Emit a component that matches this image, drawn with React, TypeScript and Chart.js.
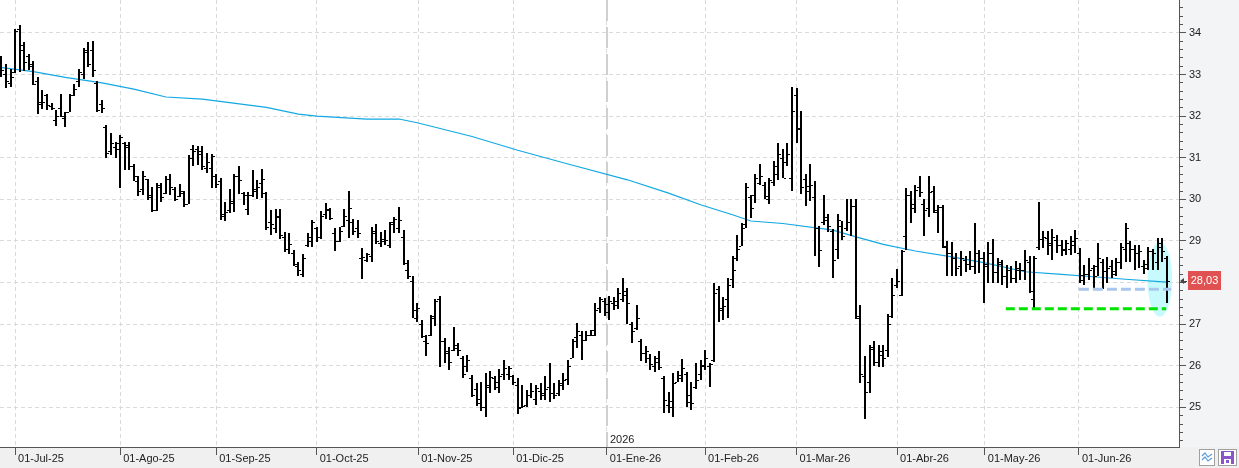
import React, { useEffect, useRef } from 'react';
import { Chart, registerables } from 'chart.js';

Chart.register(...registerables);

const W = 1239;
const H = 468;
const FONT = "'Liberation Sans', Arial, sans-serif";

// Daily OHLC bars, 26-Jun-25 .. 26-Jun-26 (index = trading day)
const openP = [
  33.3, 33.0, 32.8, 33.05, 34.1, 33.7, 33.45, 33.2, 32.85, 32.3,
  32.5, 32.25, 31.9, 32.2, 31.95, 32.1, 32.5, 32.85, 33.0, 33.6,
  33.6, 32.8, 32.3, 31.75, 31.15, 31.27, 31.35, 31.35, 31.3, 30.8,
  30.45, 30.25, 30.5, 30.1, 29.75, 30.3, 30.15, 30.5, 30.25, 30.08,
  30.15, 29.9, 31.2, 31.2, 31.15, 30.75, 30.75, 30.55, 30.45, 29.6,
  29.75, 29.95, 30.55, 30.15, 29.76, 30.1, 30.2, 30.4, 30.15, 29.45,
  29.3, 29.6, 29.1, 28.8, 28.7, 28.4, 28.2, 28.9, 29.0, 29.3,
  29.1, 29.65, 29.75, 29.2, 29.0, 29.35, 29.5, 29.45, 29.3, 28.6,
  28.55, 28.65, 29.2, 28.95, 29.05, 28.9, 29.45, 29.3, 29.1, 28.3,
  28.05, 27.15, 27.0, 26.6, 26.75, 27.2, 27.6, 26.6, 26.35, 26.38,
  26.5, 26.2, 26.0, 25.7, 25.45, 25.2, 25.0, 25.5, 25.7, 25.5,
  25.8, 25.8, 25.75, 25.55, 25.0, 25.05, 25.3, 25.2, 25.4, 25.3,
  25.5, 25.35, 25.35, 25.55, 25.68, 26.2, 26.7, 26.75, 26.62, 26.75,
  26.75, 27.4, 27.55, 27.3, 27.5, 27.45, 27.6, 27.8, 27.0, 26.9,
  26.6, 26.3, 26.2, 26.0, 26.2, 25.7, 25.05, 25.0, 25.6, 25.7,
  25.8, 25.3, 25.5, 25.8, 26.0, 26.0, 26.15, 27.85, 27.35, 27.6,
  28.09, 28.6, 28.89, 29.4, 30.05, 30.11, 30.4, 30.35, 30.0, 30.41,
  30.6, 31.0, 30.9, 30.52, 32.5, 31.7, 30.5, 30.2, 30.06, 29.3,
  29.45, 29.5, 29.23, 28.8, 29.35, 29.3, 29.45, 29.85, 27.2, 25.76,
  25.6, 26.45, 26.1, 26.35, 26.39, 27.2, 27.95, 27.7, 29.13, 30.1,
  29.8, 30.3, 29.9, 29.8, 30.2, 29.7, 29.82, 28.85, 28.7, 28.6,
  28.4, 28.55, 28.45, 28.4, 28.7, 28.6, 28.4, 28.7, 28.25, 28.5,
  28.15, 28.3, 28.1, 28.35, 28.3, 28.5, 27.6, 28.85, 29.05, 29.07,
  28.91, 29.03, 28.9, 28.8, 28.8, 28.9, 28.7, 28.07, 28.2, 28.35,
  28.39, 28.5, 28.27, 28.4, 28.2, 28.5, 28.8, 28.95, 28.8, 28.7,
  28.4, 28.35, 28.75, 28.5, 28.95, 28.6,
];

const highP = [
  33.45, 33.25, 33.13, 34.1, 34.2, 33.78, 33.5, 33.33, 32.94, 32.62,
  32.54, 32.31, 32.14, 32.54, 32.11, 32.54, 32.78, 33.13, 33.64, 33.78,
  33.8, 32.85, 32.39, 31.79, 31.59, 31.39, 31.55, 31.37, 31.37, 30.85,
  30.56, 30.67, 30.5, 30.3, 30.4, 30.39, 30.55, 30.6, 30.3, 30.37,
  30.2, 31.07, 31.31, 31.28, 31.28, 31.12, 31.1, 30.6, 30.52, 29.94,
  30.26, 30.6, 30.79, 30.18, 30.18, 30.7, 30.46, 30.74, 30.18, 29.74,
  29.76, 29.78, 29.22, 29.2, 28.78, 28.5, 28.68, 29.2, 29.5, 29.34,
  29.72, 29.92, 29.8, 29.3, 29.33, 29.76, 30.2, 29.52, 29.5, 28.82,
  28.7, 29.34, 29.41, 29.22, 29.26, 29.46, 29.58, 29.82, 29.26, 28.55,
  28.16, 27.52, 27.1, 26.75, 27.23, 27.6, 27.68, 26.67, 26.45, 26.94,
  26.55, 26.23, 26.27, 25.78, 25.58, 25.62, 25.84, 25.88, 25.76, 25.92,
  26.15, 26.0, 25.78, 25.7, 25.54, 25.42, 25.58, 25.54, 25.58, 25.76,
  26.06, 25.58, 25.66, 25.82, 26.15, 26.65, 27.03, 26.83, 26.83, 26.87,
  27.52, 27.66, 27.63, 27.67, 27.66, 27.88, 28.12, 27.86, 27.05, 27.47,
  26.65, 26.47, 26.28, 26.24, 26.35, 25.76, 25.38, 25.84, 25.88, 26.16,
  25.85, 25.62, 26.08, 26.15, 26.38, 26.08, 27.98, 27.92, 27.65, 28.11,
  28.65, 29.15, 29.43, 30.39, 30.11, 30.6, 30.86, 30.41, 30.52, 30.92,
  31.36, 31.21, 31.36, 32.7, 32.68, 32.12, 30.6, 30.86, 30.43, 29.35,
  30.11, 29.66, 29.29, 29.66, 29.47, 30.01, 30.01, 30.01, 27.47, 26.23,
  26.5, 26.59, 26.5, 26.5, 27.25, 28.11, 28.33, 28.79, 30.27, 30.19,
  30.35, 30.55, 30.0, 30.55, 30.31, 29.86, 29.86, 29.0, 28.97, 28.7,
  28.75, 28.63, 28.75, 29.42, 28.79, 28.73, 28.97, 29.05, 28.59, 28.55,
  28.43, 28.39, 28.51, 28.47, 28.79, 28.65, 28.65, 29.94, 29.23, 29.23,
  29.28, 29.15, 29.03, 29.03, 29.11, 29.27, 28.83, 28.43, 28.59, 28.43,
  28.95, 28.57, 28.61, 28.55, 28.6, 28.95, 29.43, 29.0, 28.9, 28.9,
  28.55, 28.85, 28.8, 29.08, 29.08, 28.65,
];

const lowP = [
  32.94, 32.67, 32.71, 33.04, 33.05, 33.09, 33.1, 32.74, 32.06, 32.17,
  32.15, 32.14, 31.77, 31.98, 31.75, 32.1, 32.49, 32.71, 32.88, 33.17,
  32.94, 32.11, 32.07, 30.99, 31.07, 31.0, 30.27, 30.71, 30.71, 30.43,
  30.09, 30.1, 29.98, 29.7, 29.73, 29.94, 30.14, 30.1, 29.97, 30.06,
  29.81, 29.89, 30.8, 30.83, 30.71, 30.64, 30.28, 30.27, 29.5, 29.49,
  29.68, 29.69, 30.14, 29.86, 29.62, 30.06, 30.02, 30.04, 29.26, 29.14,
  29.2, 29.04, 28.74, 28.69, 28.39, 28.16, 28.13, 28.86, 28.86, 28.98,
  29.04, 29.54, 29.5, 28.75, 28.98, 29.33, 29.06, 29.14, 29.06, 28.08,
  28.5, 28.5, 28.93, 28.86, 28.9, 28.82, 29.18, 29.18, 28.43, 28.08,
  27.15, 27.05, 26.67, 26.24, 26.71, 26.95, 25.97, 26.08, 25.89, 26.35,
  26.24, 25.7, 25.86, 25.24, 25.03, 24.92, 24.77, 25.35, 25.42, 25.35,
  25.66, 25.66, 25.55, 24.85, 24.98, 25.02, 25.22, 25.06, 25.18, 25.18,
  25.14, 25.2, 25.27, 25.42, 25.54, 26.19, 26.44, 26.13, 26.59, 26.71,
  26.71, 27.28, 27.2, 27.1, 27.35, 27.36, 27.54, 27.0, 26.55, 26.85,
  26.12, 26.06, 25.89, 25.86, 25.9, 24.86, 24.86, 24.77, 25.6, 25.61,
  25.02, 24.95, 25.44, 25.66, 25.9, 25.49, 26.1, 27.05, 27.11, 27.15,
  27.87, 28.51, 28.87, 29.31, 29.55, 29.91, 30.35, 30.0, 29.9, 30.31,
  30.47, 30.52, 30.8, 30.19, 31.36, 30.13, 29.83, 29.95, 28.63, 28.37,
  29.39, 29.21, 28.11, 28.57, 29.03, 29.23, 29.13, 27.12, 25.59, 24.72,
  25.34, 25.99, 25.97, 25.97, 26.21, 27.15, 27.87, 27.67, 28.78, 29.43,
  29.68, 30.06, 29.11, 29.58, 29.67, 29.19, 28.83, 28.17, 28.16, 28.16,
  28.16, 28.25, 28.3, 28.2, 28.23, 27.51, 28.0, 27.98, 27.98, 27.95,
  27.87, 27.99, 27.99, 28.07, 28.07, 27.75, 27.39, 28.79, 28.83, 28.67,
  28.55, 28.71, 28.65, 28.67, 28.67, 28.71, 27.99, 27.95, 28.07, 27.87,
  28.15, 27.85, 27.99, 28.11, 28.15, 28.32, 28.5, 28.5, 28.3, 28.35,
  28.2, 28.3, 28.3, 28.3, 28.5, 27.5,
];

const closeP = [
  33.1, 32.85, 32.94, 34.05, 33.6, 33.3, 33.25, 32.78, 32.33, 32.35,
  32.27, 32.2, 32.0, 32.0, 32.1, 32.5, 32.65, 33.05, 33.55, 33.25,
  33.1, 32.15, 32.2, 31.12, 31.35, 31.2, 31.5, 31.27, 30.8, 30.55,
  30.2, 30.55, 30.06, 29.75, 30.35, 30.06, 30.48, 30.3, 30.0, 30.2,
  29.88, 31.0, 31.15, 31.1, 30.8, 30.9, 31.05, 30.38, 29.65, 29.7,
  29.92, 30.55, 30.47, 30.1, 30.1, 30.25, 30.3, 30.5, 29.33, 29.4,
  29.58, 29.15, 28.8, 28.93, 28.45, 28.3, 28.6, 29.1, 29.45, 29.1,
  29.6, 29.78, 29.55, 29.0, 29.25, 29.6, 29.8, 29.25, 29.2, 28.62,
  28.68, 29.25, 29.0, 29.0, 29.02, 29.4, 29.52, 29.5, 28.47, 28.15,
  27.35, 27.4, 26.72, 26.55, 27.15, 27.55, 26.6, 26.3, 26.1, 26.42,
  26.39, 25.8, 26.13, 25.3, 25.1, 25.0, 25.55, 25.74, 25.6, 25.76,
  25.94, 25.95, 25.6, 24.98, 25.03, 25.3, 25.4, 25.46, 25.35, 25.45,
  25.34, 25.31, 25.58, 25.66, 26.0, 26.6, 26.83, 26.63, 26.75, 26.85,
  27.35, 27.6, 27.49, 27.55, 27.55, 27.75, 27.7, 27.5, 26.83, 27.15,
  26.31, 26.35, 26.05, 26.1, 25.98, 25.19, 25.16, 25.58, 25.78, 25.94,
  25.14, 25.11, 25.66, 26.02, 26.19, 26.05, 27.75, 27.4, 27.43, 27.95,
  28.3, 28.81, 29.3, 30.3, 29.79, 30.52, 30.56, 30.07, 30.46, 30.8,
  31.1, 30.52, 31.1, 32.12, 31.72, 30.3, 30.31, 30.35, 29.31, 28.79,
  29.58, 29.37, 28.55, 29.5, 29.11, 29.45, 29.85, 27.15, 25.8, 25.38,
  26.4, 26.1, 26.27, 26.19, 27.0, 27.71, 28.05, 28.75, 30.1, 29.9,
  30.23, 30.17, 29.75, 30.18, 29.74, 29.82, 28.87, 28.72, 28.6, 28.35,
  28.58, 28.45, 28.39, 28.7, 28.6, 28.45, 28.7, 28.25, 28.45, 28.15,
  28.3, 28.11, 28.31, 28.31, 28.55, 27.79, 28.6, 29.05, 29.1, 28.95,
  29.1, 28.9, 28.79, 28.95, 29.0, 29.07, 28.19, 28.2, 28.31, 28.17,
  28.6, 28.27, 28.35, 28.27, 28.5, 28.85, 29.3, 28.8, 28.7, 28.75,
  28.45, 28.75, 28.7, 28.85, 28.75, 28.03,
];

// Moving average (knots): bar index / value
const maIdx = [-0.3, 7, 14, 22, 29, 36, 44, 58, 65, 69, 80, 87, 91, 103, 113, 124, 137, 146, 153, 160, 164, 171, 182, 187, 193, 200, 208, 215, 224, 232, 239, 246, 255];
const maVal = [33.17, 33.07, 32.93, 32.8, 32.65, 32.46, 32.41, 32.21, 32.05, 32.0, 31.93, 31.93, 31.84, 31.51, 31.18, 30.85, 30.47, 30.15, 29.87, 29.63, 29.48, 29.42, 29.26, 29.1, 28.92, 28.76, 28.62, 28.48, 28.26, 28.2, 28.14, 28.08, 28.01];

// Month tick labels and their bar positions
const monthLabels = ['01-Jul-25', '01-Ago-25', '01-Sep-25', '01-Oct-25', '01-Nov-25', '01-Dic-25', '01-Ene-26', '01-Feb-26', '01-Mar-26', '01-Abr-26', '01-May-26', '01-Jun-26'];
const monthPos = [3, 26, 47, 69, 91.2, 112, 132.5, 154, 174, 196, 215.2, 235.8];
const yearLabel = '2026';
const yearPos = 132.5;

// Drawn levels
const supportLevel = 27.37;
const supportFrom = 219.8;
const supportTo = 254.9;
const pivotLevel = 27.84;
const pivotFrom = 235.8;
const pivotTo = 256;

// Highlight ellipse around last bars
const hlCenterIdx = 253.5;
const hlCenterVal = 28.08;
const hlHalfIdx = 2.7;
const hlHalfVal = 0.9;

const X_MIN = -0.3;
const X_MAX = 257.7;
const Y_MIN = 24.05;
const Y_MAX = 34.79;

const lastClose = closeP[closeP.length - 1];

const decor = {
  id: 'decor',
  beforeDraw(chart: any) {
    const { ctx, chartArea: a } = chart;
    ctx.save();
    ctx.fillStyle = '#ffffff';
    ctx.fillRect(0, 0, chart.width, chart.height);
    ctx.fillStyle = '#f3f4f6';
    ctx.fillRect(a.right, 0, chart.width - a.right, a.bottom);
    ctx.fillStyle = '#f0f0f0';
    ctx.fillRect(0, a.bottom, chart.width, chart.height - a.bottom);
    ctx.restore();
  },
  beforeDatasetsDraw(chart: any) {
    const { ctx, chartArea: a, scales } = chart;
    const xs = scales.x;
    const ys = scales.y;
    ctx.save();
    // year separator
    const yx = Math.round(xs.getPixelForValue(yearPos));
    ctx.fillStyle = '#d0d0d0';
    for (let y = a.top; y < a.bottom; y += 27) {
      ctx.fillRect(yx - 1, y, 2, Math.min(21, a.bottom - y));
    }
    ctx.fillStyle = '#222';
    ctx.font = `11px ${FONT}`;
    ctx.textAlign = 'left';
    ctx.textBaseline = 'alphabetic';
    ctx.fillText(yearLabel, yx + 3, a.bottom - 4);
    // highlight ellipse
    const cx = xs.getPixelForValue(hlCenterIdx);
    const cy = ys.getPixelForValue(hlCenterVal);
    const rx = Math.abs(xs.getPixelForValue(hlCenterIdx + hlHalfIdx) - cx);
    const ry = Math.abs(ys.getPixelForValue(hlCenterVal + hlHalfVal) - cy);
    ctx.fillStyle = 'rgba(175, 248, 252, 0.7)';
    ctx.beginPath();
    ctx.ellipse(cx, cy, rx, ry, 0, 0, Math.PI * 2);
    ctx.fill();
    ctx.restore();
  },
  afterDatasetDraw(chart: any, args: any) {
    if (args.index !== 0) return;
    const { ctx, chartArea: a, scales } = chart;
    const xs = scales.x;
    const ys = scales.y;
    ctx.save();
    ctx.beginPath();
    ctx.rect(a.left, a.top, a.right - a.left, a.bottom - a.top);
    ctx.clip();
    ctx.fillStyle = '#000000';
    for (let i = 0; i < closeP.length; i++) {
      const px = Math.round(xs.getPixelForValue(i));
      const yh = Math.round(ys.getPixelForValue(highP[i]));
      const yl = Math.round(ys.getPixelForValue(lowP[i]));
      const yo = Math.round(ys.getPixelForValue(openP[i]));
      const yc = Math.round(ys.getPixelForValue(closeP[i]));
      ctx.fillRect(px - 1, yh, 2, Math.max(1, yl - yh));
      ctx.fillRect(px - 3, yo, 2, 1);
      ctx.fillRect(px + 1, yc, 2, 1);
    }
    ctx.restore();
  },
  afterDraw(chart: any) {
    const { ctx, chartArea: a, scales } = chart;
    const ys = scales.y;
    ctx.save();
    // minor ticks on the price axis
    ctx.fillStyle = '#555';
    const start = Math.ceil(Y_MIN * 5) / 5;
    for (let k = 0; ; k++) {
      const v = Math.round((start + k * 0.2) * 10) / 10;
      if (v > Y_MAX) break;
      if (Math.abs(v - Math.round(v)) < 1e-6) continue;
      const py = Math.floor(ys.getPixelForValue(v));
      ctx.fillRect(a.right, py, 4, 1);
    }
    // last price label
    const ly = Math.round(ys.getPixelForValue(lastClose));
    ctx.fillStyle = '#e05252';
    ctx.fillRect(a.right + 9, ly - 10, 33, 19);
    ctx.fillStyle = '#ffffff';
    ctx.font = `11px ${FONT}`;
    ctx.textAlign = 'center';
    ctx.textBaseline = 'middle';
    ctx.fillText(lastClose.toFixed(2).replace('.', ','), a.right + 25.5, ly);
    // small arrow
    ctx.fillStyle = '#444';
    ctx.beginPath();
    ctx.moveTo(a.right + 1, ly);
    ctx.lineTo(a.right + 5, ly - 3);
    ctx.lineTo(a.right + 5, ly + 3);
    ctx.closePath();
    ctx.fill();
    ctx.fillRect(a.right + 4, ly, 4, 1);
    // bottom-right icons
    ctx.fillStyle = '#ffffff';
    ctx.fillRect(1199, 449, 16, 17);
    ctx.strokeStyle = '#a0a0a0';
    ctx.lineWidth = 1;
    ctx.strokeRect(1199.5, 449.5, 15, 16);
    ctx.strokeStyle = '#5b9bd8';
    ctx.lineWidth = 1.2;
    ctx.beginPath();
    ctx.moveTo(1202, 456); ctx.lineTo(1205, 453); ctx.lineTo(1208, 457); ctx.lineTo(1212, 454);
    ctx.moveTo(1202, 460); ctx.lineTo(1205, 457); ctx.lineTo(1208, 461); ctx.lineTo(1212, 458);
    ctx.stroke();
    ctx.fillStyle = '#ffffff';
    ctx.fillRect(1218, 449, 19, 17);
    ctx.strokeStyle = '#a0a0a0';
    ctx.lineWidth = 1;
    ctx.strokeRect(1218.5, 449.5, 18, 16);
    ctx.fillStyle = '#8b55c9';
    ctx.fillRect(1221, 451, 13, 13);
    ctx.fillStyle = '#ffffff';
    ctx.fillRect(1224, 452, 7, 4);
    ctx.fillRect(1224, 459, 7, 5);
    ctx.fillStyle = '#8b55c9';
    ctx.fillRect(1226, 460, 3, 3);
    ctx.restore();
  },
};

export default function App() {
  const ref = useRef<HTMLCanvasElement | null>(null);

  useEffect(() => {
    const canvas = ref.current;
    if (!canvas) return;
    const font = { family: FONT, size: 11 };
    const chart = new Chart(canvas, {
      type: 'line',
      data: {
        datasets: [
          {
            label: 'Media',
            data: maIdx.map((x, k) => ({ x, y: maVal[k] })),
            borderColor: '#12a8e3',
            borderWidth: 1.2,
            pointRadius: 0,
            tension: 0,
            order: 3,
          },
          {
            label: 'Soporte',
            data: [{ x: supportFrom, y: supportLevel }, { x: supportTo, y: supportLevel }],
            borderColor: '#00e400',
            borderWidth: 3,
            borderDash: [9, 4],
            pointRadius: 0,
            order: 1,
          },
          {
            label: 'Nivel',
            data: [{ x: pivotFrom, y: pivotLevel }, { x: pivotTo, y: pivotLevel }],
            borderColor: '#a9c7ee',
            borderWidth: 3,
            borderDash: [10, 4],
            pointRadius: 0,
            order: 2,
          },
        ],
      },
      options: {
        animation: false,
        responsive: false,
        maintainAspectRatio: false,
        events: [],
        layout: { padding: 0 },
        plugins: { legend: { display: false }, tooltip: { enabled: false } },
        scales: {
          x: {
            type: 'linear',
            position: 'bottom',
            min: X_MIN,
            max: X_MAX,
            afterBuildTicks: (s: any) => {
              s.ticks = monthPos.map((v) => ({ value: v }));
            },
            afterFit: (s: any) => {
              s.height = 21;
              s.paddingLeft = 0;
              s.paddingRight = 0;
            },
            ticks: {
              autoSkip: false,
              maxRotation: 0,
              minRotation: 0,
              align: 'start',
              labelOffset: 3,
              padding: -3,
              color: '#222',
              font,
              callback: (_v: any, idx: number) => monthLabels[idx] ?? '',
            },
            grid: { color: '#dadada', lineWidth: 1, drawTicks: true, tickLength: 8, tickColor: '#555', tickWidth: 1 },
            border: { display: true, color: '#555', width: 1, dash: [4, 3] },
          },
          y: {
            type: 'linear',
            position: 'right',
            min: Y_MIN,
            max: Y_MAX,
            afterFit: (s: any) => {
              s.width = 60;
              s.paddingTop = 0;
              s.paddingBottom = 0;
            },
            ticks: {
              stepSize: 1,
              includeBounds: false,
              padding: 3,
              color: '#222',
              font,
              callback: (v: any) => String(v),
            },
            grid: { color: '#dadada', lineWidth: 1, drawTicks: true, tickLength: 7, tickColor: '#555', tickWidth: 1 },
            border: { display: true, color: '#555', width: 1, dash: [4, 3] },
          },
        },
      },
      plugins: [decor],
    } as any);
    return () => chart.destroy();
  }, []);

  return (
    <div style={{ position: 'fixed', left: 0, top: 0, width: W, height: H, background: '#fff' }}>
      <canvas ref={ref} width={W} height={H} style={{ display: 'block', width: W, height: H }} />
    </div>
  );
}
